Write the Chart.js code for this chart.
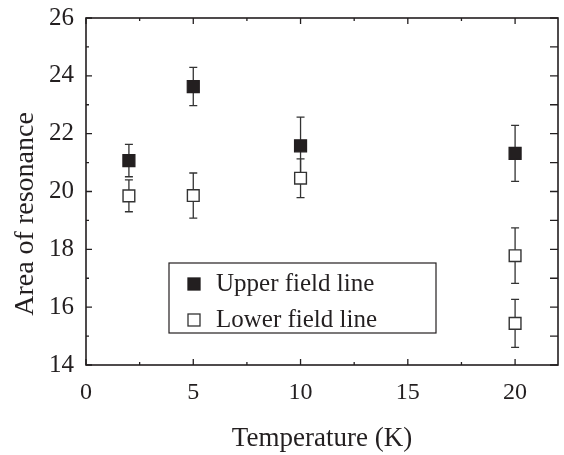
<!DOCTYPE html>
<html>
<head>
<meta charset="utf-8">
<script src="https://cdn.jsdelivr.net/npm/chart.js@4.4.0/dist/chart.umd.min.js"></script>
<style>
  html, body { margin: 0; padding: 0; background: #fff; overflow: hidden; }
  #wrap { position: relative; width: 564px; height: 455px; }
  canvas { display: block; }
</style>
</head>
<body>
<div id="wrap"><canvas id="chart"></canvas></div>
<script>
// data
const upperX = [2, 5, 10, 20];
const upperY = [21.07, 23.63, 21.58, 21.32];
const upperErr = [0.56, 0.66, 0.99, 0.97];

const lowerX = [2, 5, 10, 20, 20];
const lowerY = [19.85, 19.86, 20.46, 17.78, 15.44];
const lowerErr = [0.55, 0.78, 0.67, 0.96, 0.83];

const xTicks = [0, 5, 10, 15, 20];
const yTicks = [14, 16, 18, 20, 22, 24, 26];

const xTitle = 'Temperature (K)';
const yTitle = 'Area of resonance';

const ink = '#231f20';
const serif = "'Liberation Serif', 'DejaVu Serif', serif";

const toPoints = (xs, ys, es) => xs.map((x, i) => ({ x: x, y: ys[i], err: es[i] }));

// error bars under the markers
const errorBars = {
  id: 'errorBars',
  beforeDatasetsDraw(chart) {
    const ctx = chart.ctx;
    const xs = chart.scales.x, ys = chart.scales.y;
    ctx.save();
    ctx.strokeStyle = '#333';
    ctx.lineWidth = 1.3;
    chart.data.datasets.forEach(ds => {
      ds.data.forEach(p => {
        const px = xs.getPixelForValue(p.x);
        const top = ys.getPixelForValue(p.y + p.err);
        const bot = ys.getPixelForValue(p.y - p.err);
        ctx.beginPath();
        ctx.moveTo(px, top); ctx.lineTo(px, bot);
        ctx.moveTo(px - 4, top); ctx.lineTo(px + 4, top);
        ctx.moveTo(px - 4, bot); ctx.lineTo(px + 4, bot);
        ctx.stroke();
      });
    });
    ctx.restore();
  }
};

// box frame with inward ticks, plus axis titles
const frame = {
  id: 'frame',
  afterDraw(chart) {
    const ctx = chart.ctx;
    const a = chart.chartArea;
    const xs = chart.scales.x, ys = chart.scales.y;
    ctx.save();
    ctx.strokeStyle = ink;
    ctx.lineWidth = 1.6;
    ctx.strokeRect(a.left, a.top, a.right - a.left, a.bottom - a.top);
    ctx.lineWidth = 1.3;
    ctx.beginPath();
    for (let v = 0; v <= xs.max; v += 2.5) {
      const px = xs.getPixelForValue(v);
      const len = v % 5 === 0 ? 6 : 3;
      ctx.moveTo(px, a.bottom); ctx.lineTo(px, a.bottom - len);
      ctx.moveTo(px, a.top); ctx.lineTo(px, a.top + len);
    }
    for (let v = ys.min; v <= ys.max; v += 1) {
      const py = ys.getPixelForValue(v);
      const len = v % 2 === 0 ? 6 : 3;
      ctx.moveTo(a.left, py); ctx.lineTo(a.left + len, py);
      ctx.moveTo(a.right, py); ctx.lineTo(a.right - 8, py);
    }
    ctx.stroke();

    ctx.fillStyle = ink;
    ctx.textAlign = 'center';
    ctx.textBaseline = 'alphabetic';
    ctx.font = '27px ' + serif;
    ctx.fillText(xTitle, (a.left + a.right) / 2, 446);
    ctx.font = '28px ' + serif;
    ctx.translate(33, 214);
    ctx.rotate(-Math.PI / 2);
    ctx.fillText(yTitle, 0, 0);
    ctx.restore();
  }
};

// legend box inside the plot
const boxLegend = {
  id: 'boxLegend',
  afterDraw(chart) {
    const ctx = chart.ctx;
    const x0 = 169, y0 = 263, w = 267, h = 70;
    ctx.save();
    ctx.fillStyle = '#fff';
    ctx.fillRect(x0, y0, w, h);
    ctx.strokeStyle = ink;
    ctx.lineWidth = 1.2;
    ctx.strokeRect(x0, y0, w, h);
    ctx.font = '25px ' + serif;
    ctx.textBaseline = 'middle';
    chart.data.datasets.forEach((ds, i) => {
      const cy = y0 + 21 + i * 36;
      ctx.fillStyle = ds.backgroundColor;
      ctx.strokeStyle = ds.borderColor;
      ctx.lineWidth = 1.3;
      ctx.fillRect(188, cy - 6, 12, 12);
      ctx.strokeRect(188, cy - 6, 12, 12);
      ctx.fillStyle = ink;
      ctx.fillText(ds.label, 216, cy);
    });
    ctx.restore();
  }
};

new Chart(document.getElementById('chart'), {
  type: 'scatter',
  data: {
    datasets: [
      {
        label: 'Upper field line',
        data: toPoints(upperX, upperY, upperErr),
        pointStyle: 'rect',
        pointRadius: 8.5,
        backgroundColor: ink,
        borderColor: ink,
        borderWidth: 1.2
      },
      {
        label: 'Lower field line',
        data: toPoints(lowerX, lowerY, lowerErr),
        pointStyle: 'rect',
        pointRadius: 8.3,
        backgroundColor: '#fff',
        borderColor: '#333',
        borderWidth: 1.4
      }
    ]
  },
  options: {
    responsive: true,
    maintainAspectRatio: false,
    animation: false,
    // autoPadding would reserve room for the big markers and shrink the plot
    layout: { autoPadding: false, padding: { top: 18, right: 6, left: 0, bottom: 0 } },
    plugins: {
      legend: { display: false },
      tooltip: { enabled: false }
    },
    scales: {
      x: {
        type: 'linear',
        min: 0,
        max: 22,
        afterFit: s => { s.height = 90; s.paddingLeft = 0; s.paddingRight = 0; },
        grid: { display: false, drawTicks: false },
        border: { display: false },
        ticks: {
          stepSize: 5,
          color: ink,
          font: { family: serif, size: 24 },
          padding: 13,
          callback: v => (xTicks.includes(v) ? v : '')
        }
      },
      y: {
        type: 'linear',
        min: 14,
        max: 26,
        afterFit: s => { s.width = 86; s.paddingTop = 0; s.paddingBottom = 0; },
        grid: { display: false, drawTicks: false },
        border: { display: false },
        ticks: {
          stepSize: 2,
          color: ink,
          font: { family: serif, size: 25 },
          padding: 12,
          callback: v => (yTicks.includes(v) ? v : '')
        }
      }
    }
  },
  plugins: [errorBars, frame, boxLegend]
});
</script>
</body>
</html>
